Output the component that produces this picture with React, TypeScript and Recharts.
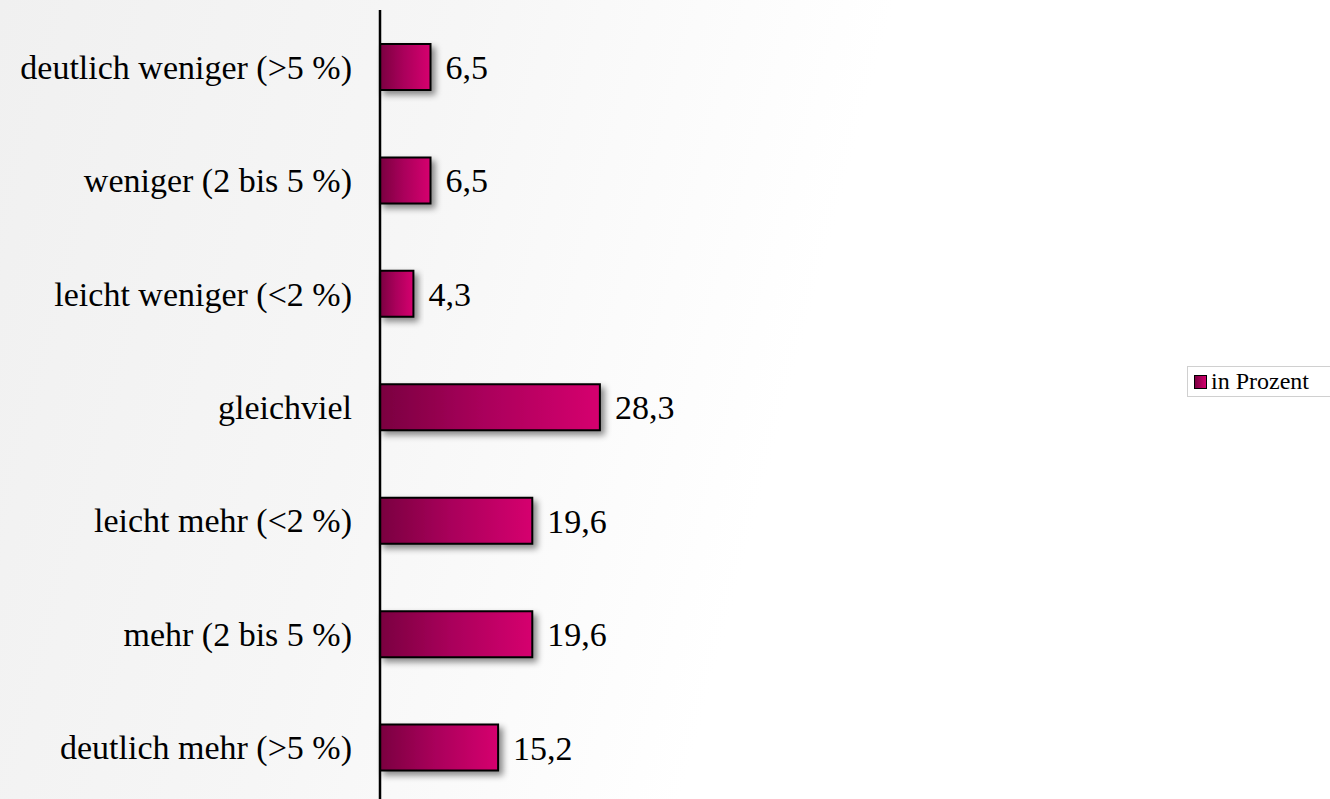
import { BarChart, Bar, XAxis, YAxis, LabelList } from "recharts";

const categories = [
  "deutlich weniger (>5 %)",
  "weniger (2 bis 5 %)",
  "leicht weniger (<2 %)",
  "gleichviel",
  "leicht mehr (<2 %)",
  "mehr (2 bis 5 %)",
  "deutlich mehr (>5 %)",
];
const prozent = [6.5, 6.5, 4.3, 28.3, 19.6, 19.6, 15.2];
const seriesName = "in Prozent";

const data = categories.map((name, i) => ({ name, value: prozent[i] }));

const FONT = "'Liberation Serif', serif";

const fmt = (v: any) => String(v).replace(".", ",");

function LegendBox() {
  return (
    <div
      style={{
        position: "absolute",
        left: 1187,
        top: 366,
        width: 143,
        height: 31,
        boxSizing: "border-box",
        border: "1px solid #d0d0d0",
        borderRight: "none",
        background: "#fff",
        paddingLeft: 6,
        display: "flex",
        alignItems: "center",
        fontFamily: FONT,
        fontSize: 24,
        color: "#000",
        whiteSpace: "nowrap",
      }}
    >
      <span
        style={{
          width: 11,
          height: 12,
          border: "1.5px solid #000",
          background: "linear-gradient(90deg, #7a0040, #d4006e)",
          marginRight: 4,
          display: "inline-block",
        }}
      />
      {seriesName}
    </div>
  );
}

export default function App() {
  return (
    <div
      style={{
        position: "absolute",
        left: 0,
        top: 0,
        width: 1330,
        height: 799,
        overflow: "hidden",
        background: "linear-gradient(105deg, #f0f0f0 0%, #f6f6f6 30%, #ffffff 58%)",
      }}
    >
      <style>{"body{margin:0}"}</style>
      <BarChart
        width={1330}
        height={810}
        data={data}
        layout="vertical"
        margin={{ top: 10, right: 173, bottom: 6, left: 0 }}
      >
        <defs>
          <linearGradient id="barFill" x1="0" y1="0" x2="1" y2="0">
            <stop offset="0%" stopColor="#7a0040" />
            <stop offset="45%" stopColor="#a8005a" />
            <stop offset="100%" stopColor="#d6006f" />
          </linearGradient>
          <filter id="shadow" x="-20%" y="-30%" width="150%" height="170%">
            <feDropShadow dx="4" dy="4" stdDeviation="3" floodColor="#000" floodOpacity="0.45" />
          </filter>
        </defs>
        <XAxis type="number" domain={[0, 100]} hide />
        <YAxis
          type="category"
          dataKey="name"
          width={380}
          axisLine={{ stroke: "#000", strokeWidth: 2.5 }}
          tickLine={false}
          tickSize={0}
          tickMargin={28}
          tick={{ fill: "#000", fontSize: 34, fontFamily: FONT }}
          interval={0}
        />
        <Bar
          dataKey="value"
          name={seriesName}
          barSize={46}
          fill="url(#barFill)"
          stroke="#000"
          strokeWidth={2}
          filter="url(#shadow)"
          isAnimationActive={false}
        >
          <LabelList
            dataKey="value"
            position="right"
            offset={15}
            formatter={fmt}
            style={{ fill: "#000", fontSize: 34, fontFamily: FONT }}
          />
        </Bar>
      </BarChart>
      <LegendBox />
    </div>
  );
}
